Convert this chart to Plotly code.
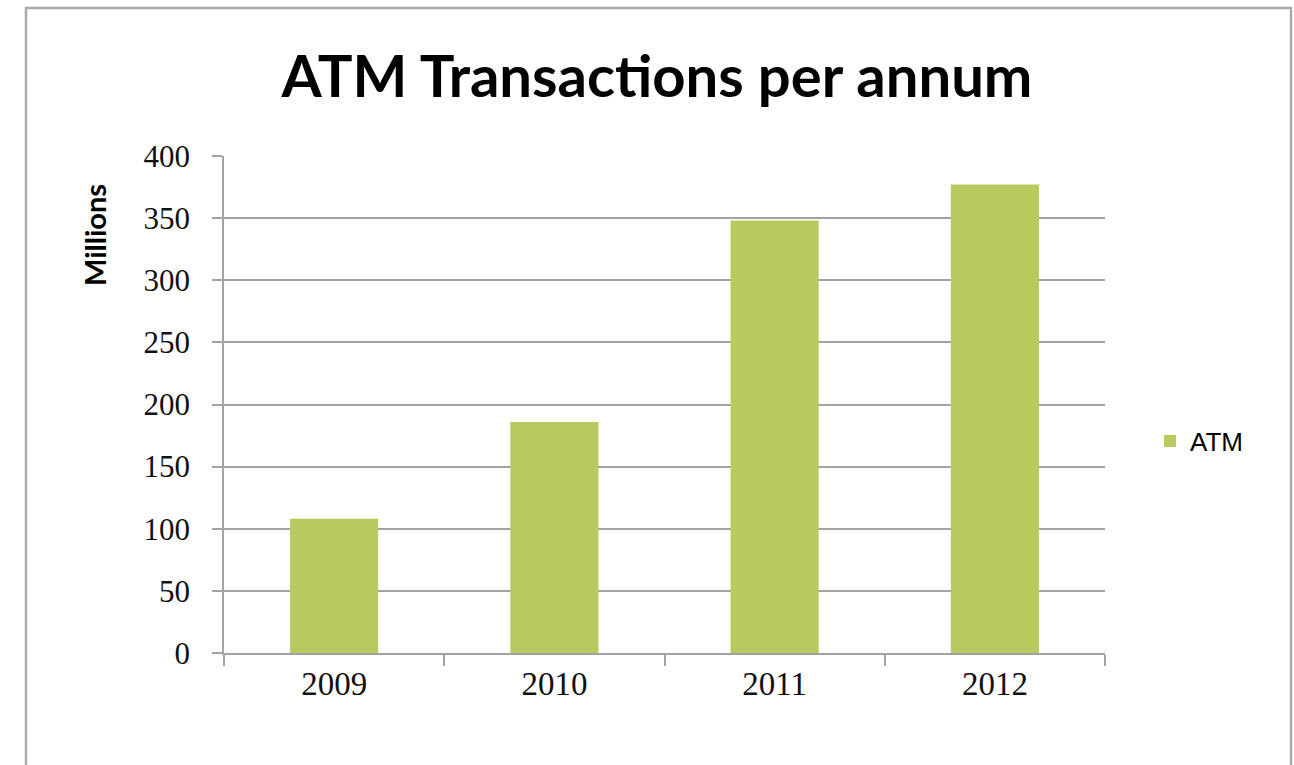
import plotly.graph_objects as go

years = ["2009", "2010", "2011", "2012"]
atm_millions = [108, 186, 348, 377]
y_ticks = [0, 50, 100, 150, 200, 250, 300, 350, 400]
series_name = "ATM"
title_text = "ATM Transactions per annum"
y_title = "Millions"

W, H = 1294, 765
L, R, T, B = 224, 1105, 156, 653  # plot area in px
pw, ph = R - L, B - T

def px_x(x):
    return (x - L) / pw

def px_y(y):
    return (B - y) / ph

grid = "#a3a3a3"

fig = go.Figure()
fig.add_trace(go.Bar(
    x=years, y=atm_millions, name=series_name,
    marker=dict(color="#B9C960", line=dict(width=0)),
    showlegend=True,
))

fig.update_layout(
    width=W, height=H,
    margin=dict(l=L, r=W - R, t=T, b=H - B),
    paper_bgcolor="white", plot_bgcolor="white",
    bargap=0.6,
    showlegend=True,
    title=dict(
        text=title_text, x=657 / W, xref="container", xanchor="center",
        y=1 - 77 / H, yref="container", yanchor="middle",
        font=dict(family="Lato", size=58, color="#000000", weight="bold"),
    ),
    legend=dict(
        x=px_x(1150), y=px_y(441), xanchor="left", yanchor="middle",
        font=dict(family="Liberation Sans", size=26, color="#000000"),
        bgcolor="rgba(0,0,0,0)",
    ),
    xaxis=dict(
        type="category", tickson="boundaries",
        ticks="outside", ticklen=11, tickwidth=1.5, tickcolor=grid,
        showline=True, linecolor=grid, linewidth=1.5,
        showgrid=False, zeroline=False,
        tickfont=dict(family="Liberation Serif", size=33, color="#111111"),
        ticklabelstandoff=1,
    ),
    yaxis=dict(
        range=[0, 400], tickvals=y_ticks,
        ticks="outside", ticklen=10, tickwidth=1.5, tickcolor=grid,
        showline=True, linecolor=grid, linewidth=1.5,
        showgrid=True, gridcolor=grid, gridwidth=1.5,
        zeroline=False,
        tickfont=dict(family="Liberation Serif", size=31, color="#111111"),
        ticklabelstandoff=16,
    ),
    annotations=[dict(
        text=y_title, textangle=-90, showarrow=False,
        xref="paper", yref="paper", x=px_x(94), y=px_y(235),
        xanchor="center", yanchor="middle",
        font=dict(family="Lato", size=29, color="#000000", weight="bold"),
    )],
    shapes=[dict(
        type="rect", xref="paper", yref="paper", layer="below",
        x0=px_x(26), x1=px_x(1291), y0=px_y(800), y1=px_y(8),
        line=dict(color="#aaaaaa", width=2.5), fillcolor="rgba(0,0,0,0)",
    )],
)

fig.write_html("out.html")
